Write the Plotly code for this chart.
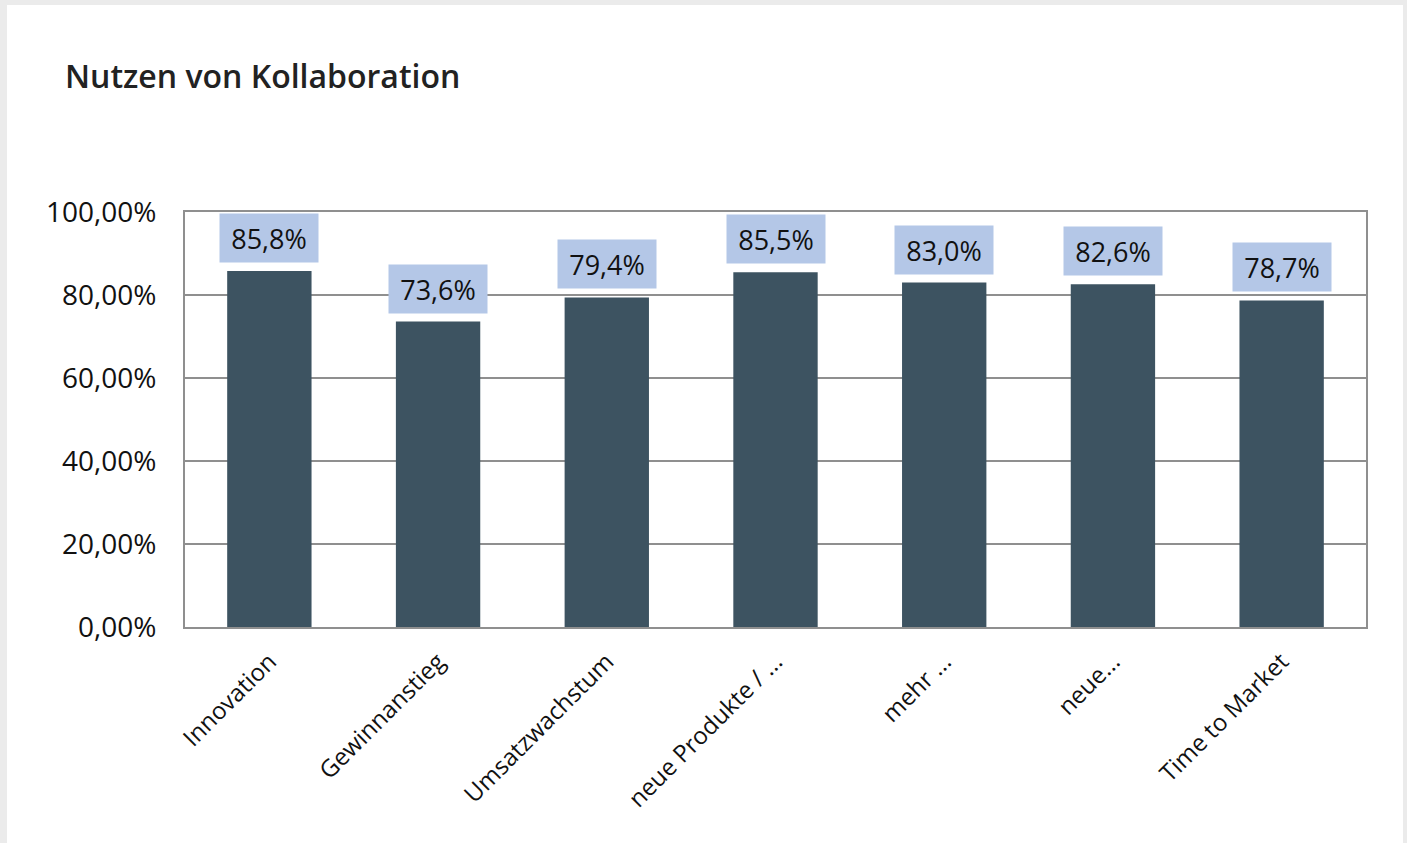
import plotly.graph_objects as go

categories = ["Innovation", "Gewinnanstieg", "Umsatzwachstum", "neue Produkte / ...",
              "mehr ...", "neue...", "Time to Market"]
values = [85.8, 73.6, 79.4, 85.5, 83.0, 82.6, 78.7]
value_labels = ["85,8%", "73,6%", "79,4%", "85,5%", "83,0%", "82,6%", "78,7%"]
y_ticks = [0, 20, 40, 60, 80, 100]
y_tick_labels = ["0,00%", "20,00%", "40,00%", "60,00%", "80,00%", "100,00%"]

W, H = 1407, 843
L, R, T, B = 185, 41, 212, 216
pw, ph = W - L - R, H - T - B

fig = go.Figure()
fig.add_trace(go.Bar(x=categories, y=values, marker=dict(color="#3d5361", line=dict(width=0)),
                     width=0.5, hoverinfo="skip"))

for c, v, t in zip(categories, values, value_labels):
    fig.add_annotation(x=c, y=v, text=t, showarrow=False, yanchor="bottom", yshift=8,
                       bgcolor="#b4c7e7", width=98, height=48, borderpad=0,
                       font=dict(family="Open Sans", size=27, color="#111"))

# white card
fig.add_shape(type="rect", xref="paper", yref="paper",
              x0=(7 - L) / pw, x1=(1403 - L) / pw,
              y0=-(H - T - ph + 5) / ph, y1=(T + ph - 5) / ph,
              fillcolor="white", line=dict(width=0), layer="below")

fig.update_layout(
    width=W, height=H,
    margin=dict(l=L, r=R, t=T, b=B, autoexpand=False),
    paper_bgcolor="#ebebeb", plot_bgcolor="white",
    showlegend=False, bargap=0.5,
    title=dict(text="Nutzen von Kollaboration", x=65 / W, xref="container", xanchor="left",
               y=1 - 77 / H, yref="container", yanchor="middle",
               font=dict(family="Open Sans", size=32, color="#222", weight=600)),
    font=dict(family="Open Sans", color="#111"),
)
fig.update_yaxes(range=[0, 100], tickvals=y_ticks, ticktext=y_tick_labels,
                 showgrid=True, gridcolor="#8f8f8f", gridwidth=1.5,
                 showline=True, linecolor="#8f8f8f", linewidth=2, mirror=True,
                 zeroline=False, ticks="", ticklabelstandoff=21,
                 tickfont=dict(family="Open Sans", size=28, color="#111"))
fig.update_xaxes(showline=True, linecolor="#8f8f8f", linewidth=2, mirror=True,
                 tickangle=-45, ticks="", ticklabelstandoff=9,
                 tickfont=dict(family="Open Sans", size=24, color="#111"))

fig.write_html("out.html", config={"displayModeBar": False},
               post_script="document.body.style.margin='0';document.body.style.overflow='hidden';")
